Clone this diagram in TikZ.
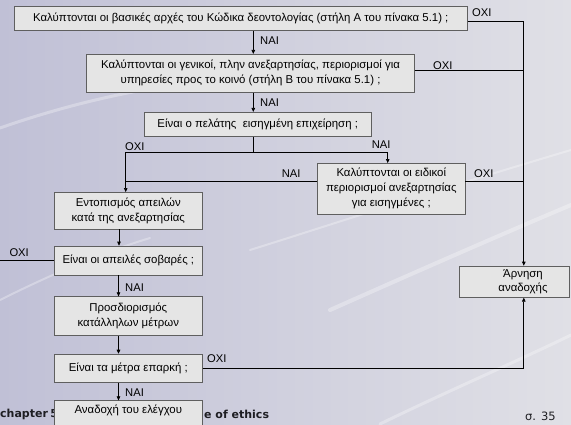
\documentclass[tikz,border=0pt]{standalone}
\usepackage{fontspec}
\usetikzlibrary{arrows.meta}
\newfontfamily\gr{Liberation Sans}
\newfontfamily\ftr{DejaVu Sans}
\definecolor{bgL}{RGB}{192,192,214}
\definecolor{bgR}{RGB}{224,224,230}
\definecolor{boxfill}{RGB}{229,229,229}
\definecolor{boxline}{RGB}{95,95,95}
\definecolor{ftcol}{RGB}{30,30,35}
\tikzset{
  fbox/.style={draw=boxline, fill=boxfill, line width=0.7pt, inner sep=0pt, align=center,
    font=\gr\fontsize{11.4}{15}\selectfont},
  conn/.style={draw=black, line width=0.7pt},
  arr/.style={conn, -{Triangle[length=4pt,width=3.6pt]}},
  lab/.style={anchor=west, inner sep=0pt, font=\gr\fontsize{11.2}{12}\selectfont},
  foot/.style={anchor=west, inner sep=0pt, text=ftcol, font=\ftr\bfseries\fontsize{11}{12}\selectfont},
  swoosh/.style={draw=white, opacity=0.3, line cap=round}
}
\begin{document}
\begin{tikzpicture}[x=1pt,y=-1pt]
\useasboundingbox (0,0) rectangle (571,424);
\shade[left color=bgL, right color=bgR] (0,0) rectangle (571,424);
% background swooshes
\draw[swoosh, line width=3pt] (0,128) .. controls (80,100) and (170,80) .. (260,78);
\draw[swoosh, line width=2pt] (0,300) .. controls (60,270) and (110,250) .. (150,238);
\draw[swoosh, line width=4pt] (330,310) .. controls (420,270) and (500,235) .. (571,205);
\draw[swoosh, line width=3pt] (380,424) .. controls (450,390) and (520,360) .. (571,335);
\draw[swoosh, line width=2pt] (250,250) .. controls (330,225) and (420,195) .. (571,150);
% footer texts (drawn under boxes)
\node[foot] (ftl) at (0,414.5) {chapter\hspace{2.5pt}5};
\node[foot] (ftr) at (204,414.5) {e of ethics};
\node[foot, font=\ftr\fontsize{11.5}{12}\selectfont] (pg) at (525,416) {σ. 35};
% boxes
\node[fbox, minimum width=453pt, minimum height=24.4pt] (b1) at (240.8,18.5)
  {Καλύπτονται οι βασικές αρχές του Κώδικα δεοντολογίας (στήλη Α του πίνακα 5.1) ;};
\node[fbox, minimum width=327.7pt, minimum height=38pt] (b2) at (250.5,73.3)
  {Καλύπτονται οι γενικοί, πλην ανεξαρτησίας, περιορισμοί για\\υπηρεσίες προς το κοινό (στήλη Β του πίνακα 5.1) ;};
\node[fbox, minimum width=227.4pt, minimum height=24.2pt] (b3) at (257.7,124.4)
  {Είναι ο πελάτης\ \ εισηγμένη επιχείρηση ;};
\node[fbox, minimum width=147.3pt, minimum height=50.7pt] (b4) at (391.3,188.7)
  {Καλύπτονται οι ειδικοί\\περιορισμοί ανεξαρτησίας\\για εισηγμένες ;};
\node[fbox, minimum width=148pt, minimum height=36.7pt] (b5) at (128.3,210.7)
  {Εντοπισμός απειλών\\κατά της ανεξαρτησίας};
\node[fbox, minimum width=148pt, minimum height=29pt] (b6) at (128.3,260.5)
  {Είναι οι απειλές σοβαρές ;};
\node[fbox, minimum width=148pt, minimum height=39pt] (b7) at (128.3,316.2)
  {Προσδιορισμός\\κατάλληλων μέτρων};
\node[fbox, minimum width=148pt, minimum height=28.3pt] (b8) at (128.3,368.2)
  {Είναι τα μέτρα επαρκή ;};
\node[fbox, minimum width=148pt, minimum height=36pt] (b9) at (128.3,418.7) {};
\node[inner sep=0pt, font=\gr\fontsize{11.4}{15}\selectfont] (b9t) at (128.3,410) {Αναδοχή του ελέγχου};
\node[fbox, minimum width=110pt, minimum height=31.3pt] (arn) at (514,281.7) {};
\node[inner sep=0pt, align=center, font=\gr\fontsize{11.4}{13.8}\selectfont] (arnt) at (523,281.7) {Άρνηση\\αναδοχής};
% junction coordinates
\coordinate (cx) at (253.3,0);
\coordinate (jr) at (523.8,21.3);
\coordinate (j2) at (523.8,70.3);
\coordinate (split) at (253.3,152.3);
\coordinate (sl) at (125.7,152.3);
\coordinate (sr) at (387.7,152.3);
\coordinate (j4) at (125.7,181);
\coordinate (j4r) at (523.8,181);
\coordinate (lend) at (0,0);
\coordinate (xa) at (119,0);
\coordinate (xb) at (118.5,0);
\coordinate (br) at (523.8,368.3);
% connectors
\draw[arr] (b1.south -| cx) -- (b2.north -| cx);
\draw[arr] (b2.south -| cx) -- (b3.north -| cx);
\draw[conn] (b3.south -| cx) -- (split);
\draw[arr] (split) -- (sl) -- (b5.north -| sl);
\draw[arr] (split) -- (sr) -- (b4.north -| sr);
\draw[conn] (b4.west |- j4) -- (j4);
\draw[arr] (b1.east |- jr) -- (jr) -- (arn.north -| jr);
\draw[conn] (b2.east |- j2) -- (j2);
\draw[conn] (b4.east |- j4r) -- (j4r);
\draw[arr] (b5.south -| xa) -- (b6.north -| xa);
\draw[conn] (b6.west) -- (b6.west -| lend);
\draw[arr] (b6.south -| xb) -- (b7.north -| xb);
\draw[arr] (b7.south -| xb) -- (b8.north -| xb);
\draw[arr] (b8.east |- br) -- (br) -- (arn.south -| br);
\draw[arr] (b8.south -| xb) -- (b9.north -| xb);
% labels
\node[lab] (l1) at (260,40.5) {ΝΑΙ};
\node[lab] (l2) at (260,103) {ΝΑΙ};
\node[lab] (l3) at (472,12.5) {ΟΧΙ};
\node[lab] (l4) at (433,65.5) {ΟΧΙ};
\node[lab] (l5) at (125,146.5) {ΟΧΙ};
\node[lab] (l6) at (371.7,145) {ΝΑΙ};
\node[lab] (l7) at (281.7,173.3) {ΝΑΙ};
\node[lab] (l8) at (474,173.3) {ΟΧΙ};
\node[lab] (l9) at (9.3,253) {ΟΧΙ};
\node[lab] (l10) at (125,287.3) {ΝΑΙ};
\node[lab] (l11) at (207,359) {ΟΧΙ};
\node[lab] (l12) at (125,393) {ΝΑΙ};
\end{tikzpicture}
\end{document}
